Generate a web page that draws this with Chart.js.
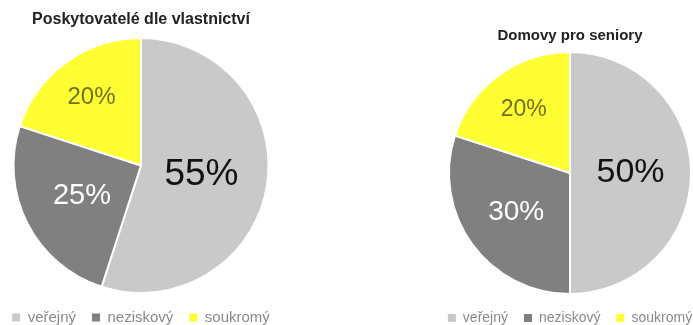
<!DOCTYPE html>
<html lang="cs">
<head>
<meta charset="utf-8">
<title>Poskytovatelé a domovy pro seniory</title>
<script src="https://cdn.jsdelivr.net/npm/chart.js@4/dist/chart.umd.min.js"></script>
<style>
    html, body { margin: 0; padding: 0; background: #fff; overflow: hidden; }
    body { width: 693px; height: 325px; position: relative; }
    .pie { position: absolute; top: 0; }
    #ownersPie { left: -10px; width: 302px; height: 335px; }
    #homesPie { left: 431px; width: 278px; height: 335px; }
</style>
</head>
<body>
<div class="pie" id="ownersPie"><canvas id="ownersChart"></canvas></div>
<div class="pie" id="homesPie"><canvas id="homesChart"></canvas></div>
<script>
// Ownership categories and shares (%)
const categories = ['veřejný', 'neziskový', 'soukromý'];
const providerShares = [55, 25, 20];
const seniorHomeShares = [50, 30, 20];

const sliceColors = ['#c9c9c9', '#808080', '#ffff33'];
const labelColors = ['#111111', '#ffffff', '#6f6f1c'];

// Draws the percentage inside each slice, placed along the slice's mid angle
const sliceLabels = {
    id: 'sliceLabels',
    afterDatasetsDraw(chart, args, opts) {
        const ctx = chart.ctx;
        const meta = chart.getDatasetMeta(0);
        const values = chart.data.datasets[0].data;
        meta.data.forEach((arc, i) => {
            const p = arc.getProps(['x', 'y', 'startAngle', 'endAngle', 'outerRadius'], true);
            const mid = (p.startAngle + p.endAngle) / 2;
            const r = p.outerRadius * opts.radius[i];
            ctx.save();
            ctx.font = opts.sizes[i] + 'px "Liberation Sans", Arial, sans-serif';
            ctx.fillStyle = labelColors[i];
            ctx.textAlign = 'center';
            ctx.textBaseline = 'middle';
            ctx.fillText(values[i] + '%', p.x + Math.cos(mid) * r, p.y + Math.sin(mid) * r);
            ctx.restore();
        });
    }
};

// Legend boxes without the white slice border
function legendItems(chart) {
    const items = Chart.PieController.overrides.plugins.legend.labels.generateLabels(chart);
    items.forEach(item => { item.lineWidth = 0; });
    return items;
}

function makePie(canvasId, values, title, cfg) {
    return new Chart(document.getElementById(canvasId), {
        type: 'pie',
        data: {
            labels: categories,
            datasets: [{
                data: values,
                backgroundColor: sliceColors,
                borderColor: '#ffffff',
                borderWidth: 2,
                hoverOffset: 0
            }]
        },
        options: {
            responsive: true,
            maintainAspectRatio: false,
            animation: false,
            events: [],
            plugins: {
                title: {
                    display: true,
                    text: title,
                    color: '#222222',
                    font: { family: '"Liberation Sans", Arial, sans-serif', size: cfg.titleSize, weight: 'bold' },
                    padding: cfg.titlePadding
                },
                legend: {
                    position: 'bottom',
                    labels: {
                        boxWidth: 8,
                        boxHeight: 8,
                        padding: 16,
                        color: '#8a8a8a',
                        font: { family: '"Liberation Sans", Arial, sans-serif', size: cfg.legendSize },
                        generateLabels: legendItems
                    }
                },
                tooltip: { enabled: false },
                sliceLabels: { radius: cfg.labelRadius, sizes: cfg.labelSizes }
            }
        },
        plugins: [sliceLabels]
    });
}

makePie('ownersChart', providerShares, 'Poskytovatelé dle vlastnictví', {
    titleSize: 16,
    titlePadding: { top: 10.4, bottom: 7.4 },
    legendSize: 15,
    labelRadius: [0.48, 0.52, 0.66],
    labelSizes: [37, 29, 24]
});

makePie('homesChart', seniorHomeShares, 'Domovy pro seniory', {
    titleSize: 15,
    titlePadding: { top: 27, bottom: 6 },
    legendSize: 14,
    labelRadius: [0.5, 0.55, 0.65],
    labelSizes: [34, 28, 23]
});
</script>
</body>
</html>
